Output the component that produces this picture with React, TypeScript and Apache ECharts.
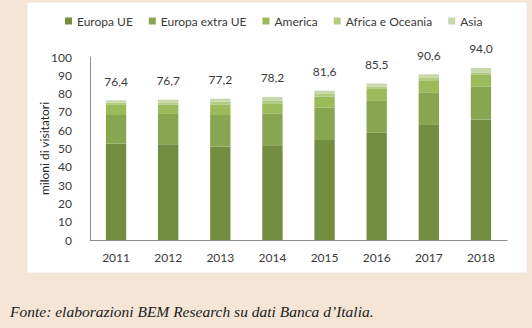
import React, { useEffect, useRef } from "react";
import * as echarts from "echarts";

const years = ["2011", "2012", "2013", "2014", "2015", "2016", "2017", "2018"];
const europaUE = [52.8, 52.3, 51.0, 51.4, 54.6, 58.6, 63.2, 65.9];
const europaExtraUE = [15.5, 16.6, 17.3, 17.8, 17.7, 17.4, 17.5, 17.9];
const america = [5.5, 5.0, 5.8, 5.5, 6.0, 6.5, 6.2, 6.4];
const africaOceania = [1.3, 1.3, 1.6, 1.3, 1.5, 1.3, 2.0, 1.4];
const asia = [1.3, 1.5, 1.5, 2.2, 1.8, 1.7, 1.7, 2.4];
const totals = ["76,4", "76,7", "77,2", "78,2", "81,6", "85,5", "90,6", "94,0"];
const seriesNames = ["Europa UE", "Europa extra UE", "America", "Africa e Oceania", "Asia"];
const colors = ["#728d40", "#88a54f", "#9bba5a", "#b3cb82", "#c9d8ac"];

export default function App() {
  const ref = useRef<HTMLDivElement>(null);
  useEffect(() => {
    if (!ref.current) return;
    const chart = echarts.init(ref.current, null, { renderer: "svg" });
    const font = "Lato, 'Open Sans', sans-serif";
    const data = [europaUE, europaExtraUE, america, africaOceania, asia];
    chart.setOption({
      animation: false,
      backgroundColor: "#f4e5d6",
      textStyle: { fontFamily: font },
      graphic: [
        {
          type: "rect",
          z: -10,
          shape: { x: 27, y: 2, width: 500, height: 271 },
          style: { fill: "#ffffff", stroke: "#efe4da", lineWidth: 1 },
        },
        {
          type: "text",
          left: 10,
          top: 303,
          style: {
            text: "Fonte: elaborazioni BEM Research su dati Banca d\u2019Italia.",
            font: "italic 15.5px 'Liberation Serif', 'DejaVu Serif', serif",
            fill: "#222222",
          },
        },
      ],
      legend: {
        top: 10,
        left: 60,
        itemWidth: 7,
        itemHeight: 7,
        itemGap: 16,
        icon: "rect",
        textStyle: { fontSize: 12, color: "#3a3a3a", fontFamily: font },
        data: seriesNames,
      },
      grid: { left: 90, right: 25, top: 57, bottom: 88 },
      xAxis: {
        type: "category",
        data: years,
        axisTick: { show: false },
        axisLine: { lineStyle: { color: "#8c8c8c" } },
        axisLabel: { color: "#3a3a3a", fontSize: 12, margin: 11 },
      },
      yAxis: {
        type: "value",
        min: 0,
        max: 100,
        interval: 10,
        name: "miloni di visitatori",
        nameLocation: "middle",
        nameGap: 40,
        nameMoveOverlap: false,
        nameTextStyle: { color: "#222222", fontSize: 12 },
        axisLine: { show: true, lineStyle: { color: "#8c8c8c" } },
        axisTick: { show: false },
        splitLine: { show: false },
        axisLabel: { color: "#3a3a3a", fontSize: 12, margin: 18 },
      },
      series: seriesNames.map((name, i) => ({
        name,
        type: "bar",
        stack: "total",
        barWidth: "39%",
        data: data[i],
        itemStyle: { color: colors[i] },
        label:
          i === seriesNames.length - 1
            ? {
                show: true,
                position: "top",
                distance: 13,
                fontSize: 12,
                color: "#3a3a3a",
                formatter: (p: any) => totals[p.dataIndex],
              }
            : { show: false },
      })),
    });
    return () => chart.dispose();
  }, []);
  return (
    <div
      ref={ref}
      style={{ position: "fixed", left: 0, top: 0, width: 532, height: 328 }}
    />
  );
}
